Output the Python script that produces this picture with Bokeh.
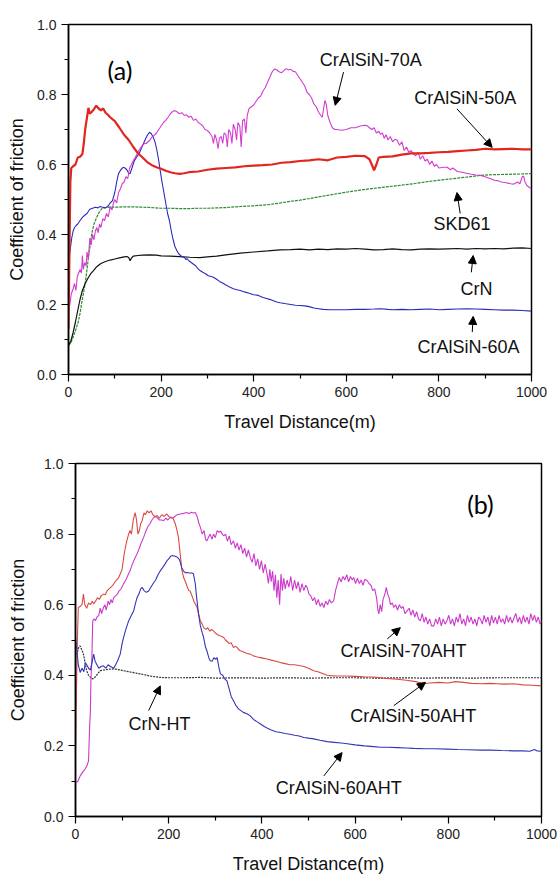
from bokeh.plotting import figure
from bokeh.models import Range1d, FixedTicker, Arrow, NormalHead, Label, NumeralTickFormatter
from bokeh.embed import file_html
from bokeh.resources import INLINE

# ---------------- DATA (distance m, coefficient of friction) ----------------
x_ticks = [0, 200, 400, 600, 800, 1000]
x_minor = [100, 300, 500, 700, 900]
y_ticks = [0.0, 0.2, 0.4, 0.6, 0.8, 1.0]
y_minor = [0.1, 0.3, 0.5, 0.7, 0.9]

# panel (a)
a_50A = [(0,0.13),(2,0.35),(4,0.55),(6,0.59),(10,0.595),(15,0.60),(20,0.62),(25,0.622),(30,0.63),(33,0.66),(36,0.70),(40,0.735),(43,0.762),(46,0.745),(50,0.75),(55,0.758),(60,0.768),(65,0.76),(70,0.755),(75,0.76),(80,0.748),(85,0.742),(90,0.735),(100,0.724),(110,0.705),(120,0.685),(130,0.67),(140,0.65),(150,0.632),(160,0.62),(170,0.607),(180,0.598),(190,0.592),(200,0.588),(210,0.582),(220,0.578),(230,0.575),(240,0.573),(250,0.575),(260,0.578),(280,0.58),(300,0.585),(320,0.588),(340,0.59),(360,0.592),(380,0.595),(400,0.597),(420,0.598),(440,0.60),(460,0.605),(480,0.607),(500,0.61),(520,0.612),(540,0.615),(560,0.612),(580,0.62),(600,0.622),(620,0.625),(640,0.624),(650,0.615),(655,0.60),(660,0.583),(665,0.60),(670,0.62),(680,0.622),(700,0.623),(720,0.628),(740,0.632),(760,0.632),(780,0.633),(800,0.635),(820,0.636),(840,0.638),(860,0.64),(880,0.642),(900,0.645),(920,0.643),(940,0.644),(960,0.645),(980,0.643),(1000,0.643)]

a_70A = [(0,0.19),(3,0.2),(6,0.23),(10,0.245),(13,0.26),(16,0.24),(19,0.28),(22,0.29),(25,0.3),(28,0.29),(30,0.34),(32,0.3),(35,0.32),(38,0.31),(40,0.35),(43,0.33),(46,0.39),(49,0.37),(52,0.4),(55,0.385),(58,0.41),(61,0.42),(64,0.405),(67,0.43),(70,0.42),(74,0.445),(78,0.44),(82,0.46),(86,0.45),(90,0.48),(94,0.47),(97,0.49),(100,0.5),(104,0.49),(108,0.52),(112,0.53),(116,0.545),(120,0.55),(124,0.565),(128,0.56),(132,0.59),(136,0.6),(140,0.611),(144,0.62),(148,0.63),(152,0.64),(156,0.648),(160,0.655),(164,0.66),(168,0.66),(172,0.665),(176,0.67),(180,0.678),(185,0.683),(190,0.69),(195,0.70),(200,0.71),(205,0.72),(210,0.726),(215,0.735),(220,0.745),(225,0.752),(230,0.754),(235,0.75),(240,0.745),(245,0.748),(250,0.74),(255,0.742),(260,0.735),(265,0.738),(270,0.726),(275,0.73),(280,0.72),(285,0.716),(290,0.71),(295,0.70),(300,0.697),(305,0.69),(310,0.68),(313,0.66),(316,0.686),(320,0.67),(323,0.645),(326,0.675),(330,0.68),(333,0.66),(336,0.69),(340,0.686),(343,0.65),(346,0.70),(350,0.69),(353,0.66),(356,0.715),(360,0.70),(363,0.67),(366,0.72),(370,0.71),(373,0.65),(376,0.725),(380,0.73),(383,0.69),(386,0.74),(390,0.76),(395,0.765),(400,0.77),(405,0.78),(410,0.79),(415,0.795),(420,0.81),(425,0.82),(430,0.835),(435,0.85),(440,0.865),(445,0.873),(450,0.87),(455,0.865),(460,0.862),(465,0.868),(470,0.874),(475,0.87),(480,0.872),(485,0.866),(490,0.865),(495,0.855),(500,0.845),(505,0.835),(510,0.825),(515,0.807),(520,0.80),(525,0.79),(530,0.773),(535,0.765),(540,0.75),(545,0.74),(548,0.735),(551,0.76),(554,0.783),(557,0.77),(560,0.74),(565,0.72),(570,0.705),(575,0.70),(580,0.70),(590,0.698),(600,0.70),(610,0.705),(620,0.705),(630,0.71),(640,0.712),(645,0.711),(650,0.705),(655,0.70),(660,0.705),(665,0.69),(670,0.695),(674,0.686),(678,0.69),(682,0.675),(686,0.685),(690,0.67),(695,0.68),(700,0.665),(705,0.672),(710,0.669),(715,0.655),(720,0.665),(725,0.64),(730,0.65),(735,0.635),(740,0.64),(745,0.63),(750,0.625),(755,0.635),(760,0.615),(765,0.625),(770,0.61),(775,0.615),(780,0.60),(785,0.61),(790,0.595),(795,0.6),(800,0.59),(810,0.592),(818,0.592),(825,0.585),(830,0.59),(840,0.58),(850,0.578),(860,0.575),(870,0.572),(880,0.57),(890,0.569),(900,0.565),(910,0.56),(920,0.555),(926,0.554),(935,0.55),(945,0.548),(955,0.545),(962,0.544),(970,0.55),(975,0.545),(980,0.565),(983,0.567),(986,0.55),(990,0.54),(995,0.535),(1000,0.53)]

a_60A = [(0,0.30),(2,0.34),(4,0.36),(7,0.39),(10,0.41),(13,0.42),(16,0.425),(20,0.43),(25,0.44),(30,0.449),(35,0.455),(40,0.46),(46,0.472),(52,0.475),(58,0.478),(64,0.476),(68,0.48),(74,0.478),(80,0.476),(86,0.482),(90,0.49),(95,0.497),(100,0.52),(104,0.55),(108,0.574),(113,0.585),(118,0.592),(122,0.59),(126,0.585),(130,0.575),(133,0.574),(137,0.59),(142,0.61),(147,0.621),(152,0.63),(157,0.645),(162,0.66),(167,0.675),(171,0.685),(175,0.692),(179,0.688),(183,0.678),(187,0.664),(191,0.64),(195,0.61),(198,0.583),(202,0.55),(206,0.52),(210,0.49),(214,0.46),(218,0.44),(222,0.41),(226,0.385),(230,0.365),(234,0.354),(238,0.345),(242,0.34),(246,0.336),(250,0.335),(254,0.328),(256,0.331),(260,0.325),(265,0.32),(270,0.315),(275,0.31),(280,0.302),(284,0.297),(290,0.292),(296,0.288),(302,0.282),(308,0.28),(313,0.278),(320,0.272),(326,0.266),(332,0.262),(338,0.257),(342,0.254),(348,0.25),(356,0.245),(364,0.242),(371,0.24),(380,0.236),(390,0.232),(400,0.228),(410,0.226),(420,0.22),(428,0.217),(436,0.214),(444,0.21),(450,0.207),(457,0.205),(470,0.202),(480,0.20),(490,0.198),(500,0.197),(510,0.196),(520,0.194),(530,0.19),(540,0.188),(550,0.186),(565,0.185),(580,0.185),(600,0.185),(620,0.186),(640,0.186),(660,0.187),(674,0.188),(690,0.186),(700,0.185),(720,0.186),(740,0.185),(760,0.186),(780,0.187),(800,0.185),(820,0.186),(840,0.187),(860,0.188),(880,0.187),(900,0.186),(920,0.185),(940,0.184),(960,0.184),(980,0.183),(1000,0.181)]

a_SKD61 = [(0,0.083),(5,0.09),(10,0.107),(15,0.125),(21,0.15),(25,0.175),(28,0.2),(32,0.23),(36,0.26),(40,0.3),(43,0.335),(47,0.37),(50,0.40),(55,0.43),(61,0.449),(66,0.463),(72,0.474),(80,0.477),(90,0.478),(100,0.478),(120,0.479),(140,0.479),(160,0.478),(180,0.477),(200,0.475),(220,0.475),(240,0.474),(260,0.474),(280,0.475),(300,0.475),(320,0.476),(340,0.477),(371,0.48),(400,0.482),(430,0.485),(457,0.49),(480,0.495),(500,0.498),(530,0.505),(560,0.512),(601,0.521),(630,0.527),(660,0.532),(700,0.538),(745,0.545),(780,0.552),(820,0.558),(860,0.564),(890,0.569),(920,0.571),(950,0.572),(980,0.573),(1000,0.574)]

a_CrN = [(0,0.083),(5,0.095),(10,0.12),(15,0.15),(21,0.19),(25,0.215),(30,0.24),(36,0.26),(42,0.275),(48,0.288),(54,0.297),(61,0.308),(70,0.317),(80,0.323),(90,0.327),(100,0.33),(110,0.333),(120,0.336),(126,0.337),(130,0.334),(133,0.325),(136,0.333),(140,0.338),(150,0.34),(160,0.341),(176,0.342),(190,0.341),(200,0.339),(220,0.338),(240,0.337),(262,0.335),(284,0.334),(300,0.336),(320,0.338),(340,0.342),(371,0.347),(400,0.35),(430,0.353),(457,0.356),(480,0.357),(500,0.358),(520,0.356),(540,0.358),(560,0.357),(580,0.359),(600,0.358),(620,0.36),(640,0.358),(660,0.356),(680,0.357),(700,0.359),(720,0.357),(740,0.356),(760,0.358),(780,0.359),(800,0.358),(820,0.359),(840,0.36),(860,0.358),(880,0.36),(900,0.359),(920,0.36),(940,0.359),(960,0.361),(980,0.362),(1000,0.36)]

# panel (b)
b_50AHT = [(0,0.19),(2,0.35),(4,0.5),(6,0.592),(10,0.595),(14,0.60),(17,0.63),(20,0.60),(24,0.59),(28,0.605),(32,0.60),(36,0.61),(39,0.602),(43,0.61),(47,0.62),(51,0.615),(55,0.625),(60,0.63),(64,0.628),(68,0.64),(72,0.645),(76,0.65),(80,0.655),(84,0.663),(88,0.67),(92,0.675),(96,0.687),(100,0.70),(104,0.74),(107,0.762),(110,0.78),(114,0.8),(117,0.81),(120,0.80),(124,0.84),(128,0.861),(131,0.84),(134,0.80),(137,0.81),(140,0.83),(143,0.838),(147,0.86),(150,0.855),(154,0.866),(158,0.86),(162,0.866),(166,0.855),(170,0.85),(175,0.852),(180,0.845),(185,0.855),(190,0.85),(196,0.857),(200,0.85),(205,0.848),(210,0.843),(214,0.83),(218,0.81),(221,0.79),(225,0.74),(228,0.70),(232,0.677),(236,0.665),(240,0.65),(243,0.64),(246,0.639),(250,0.625),(254,0.61),(258,0.6),(261,0.592),(265,0.57),(268,0.554),(272,0.545),(275,0.535),(280,0.53),(284,0.535),(288,0.525),(292,0.53),(296,0.526),(300,0.52),(305,0.515),(310,0.512),(314,0.51),(318,0.507),(322,0.5),(326,0.495),(330,0.49),(334,0.492),(339,0.479),(344,0.482),(347,0.479),(352,0.47),(357,0.468),(362,0.465),(368,0.462),(375,0.46),(382,0.455),(390,0.452),(397,0.45),(404,0.448),(411,0.446),(420,0.443),(430,0.44),(440,0.436),(450,0.433),(460,0.43),(470,0.43),(482,0.427),(490,0.425),(500,0.42),(511,0.413),(520,0.41),(530,0.405),(540,0.4),(547,0.399),(560,0.398),(580,0.398),(600,0.397),(618,0.396),(640,0.395),(660,0.392),(690,0.389),(710,0.386),(730,0.382),(747,0.376),(760,0.378),(780,0.38),(800,0.378),(815,0.382),(833,0.38),(850,0.377),(870,0.376),(890,0.377),(905,0.376),(920,0.375),(940,0.376),(960,0.373),(980,0.372),(1000,0.37)]

b_CrNHT = [(0,0.45),(3,0.46),(7,0.48),(10,0.483),(14,0.47),(17,0.46),(20,0.44),(24,0.413),(28,0.4),(32,0.394),(36,0.39),(40,0.392),(45,0.40),(53,0.413),(60,0.415),(70,0.417),(82,0.418),(92,0.416),(103,0.413),(115,0.41),(127,0.407),(139,0.404),(150,0.401),(160,0.398),(170,0.396),(182,0.394),(200,0.393),(230,0.393),(268,0.394),(300,0.392),(350,0.393),(400,0.392),(450,0.393),(500,0.392),(550,0.393),(600,0.393),(650,0.392),(700,0.393),(750,0.392),(800,0.393),(850,0.392),(900,0.393),(950,0.393),(1000,0.393)]

b_60AHT = [(0,0.507),(3,0.47),(6,0.43),(10,0.408),(14,0.42),(18,0.41),(21,0.435),(24,0.43),(28,0.42),(32,0.415),(36,0.44),(39,0.46),(42,0.44),(46,0.43),(50,0.42),(55,0.425),(60,0.427),(65,0.42),(70,0.43),(75,0.425),(82,0.42),(86,0.43),(90,0.44),(96,0.46),(100,0.49),(103,0.507),(108,0.53),(114,0.554),(120,0.57),(125,0.583),(128,0.6),(132,0.62),(136,0.63),(140,0.645),(143,0.649),(147,0.64),(152,0.635),(157,0.639),(162,0.65),(168,0.663),(172,0.67),(177,0.685),(182,0.696),(187,0.705),(192,0.715),(196,0.724),(200,0.73),(204,0.737),(207,0.739),(212,0.738),(218,0.735),(222,0.73),(225,0.72),(228,0.705),(232,0.695),(236,0.69),(239,0.691),(245,0.69),(250,0.69),(253,0.688),(257,0.66),(260,0.62),(264,0.574),(268,0.54),(272,0.52),(275,0.507),(279,0.48),(282,0.469),(286,0.45),(289,0.441),(293,0.44),(297,0.45),(301,0.445),(304,0.45),(308,0.42),(311,0.404),(316,0.4),(320,0.39),(325,0.384),(330,0.36),(334,0.34),(339,0.328),(344,0.315),(350,0.305),(355,0.3),(360,0.295),(368,0.291),(375,0.285),(382,0.275),(390,0.268),(397,0.262),(405,0.255),(412,0.25),(420,0.245),(430,0.24),(440,0.238),(450,0.235),(460,0.233),(470,0.23),(480,0.228),(490,0.224),(500,0.222),(511,0.22),(525,0.216),(540,0.212),(555,0.21),(570,0.208),(583,0.206),(600,0.203),(620,0.2),(640,0.198),(654,0.196),(670,0.196),(690,0.195),(710,0.194),(726,0.193),(750,0.192),(770,0.192),(798,0.191),(820,0.19),(845,0.189),(869,0.188),(890,0.188),(915,0.187),(941,0.186),(960,0.186),(975,0.185),(985,0.19),(990,0.186),(1000,0.185)]

b_70AHT = [(0,0.096),(5,0.1),(10,0.115),(15,0.125),(21,0.135),(25,0.145),(28,0.158),(30,0.243),(32,0.3),(33,0.384),(35,0.44),(36,0.5),(37,0.554),(40,0.56),(43,0.555),(46,0.565),(50,0.57),(53,0.59),(56,0.575),(60,0.592),(63,0.6),(66,0.585),(70,0.61),(73,0.6),(76,0.615),(79,0.605),(82,0.62),(86,0.625),(90,0.63),(94,0.64),(98,0.645),(103,0.659),(108,0.67),(113,0.685),(117,0.696),(122,0.715),(127,0.73),(132,0.744),(137,0.76),(141,0.775),(146,0.79),(150,0.805),(155,0.82),(160,0.83),(164,0.84),(168,0.847),(172,0.85),(176,0.845),(180,0.84),(185,0.84),(189,0.838),(194,0.845),(198,0.84),(203,0.847),(208,0.845),(213,0.85),(218,0.855),(225,0.857),(230,0.858),(235,0.86),(239,0.861),(244,0.858),(248,0.862),(253,0.86),(257,0.861),(261,0.85),(265,0.83),(268,0.819),(272,0.80),(276,0.81),(279,0.786),(282,0.781),(285,0.79),(289,0.8),(293,0.785),(296,0.80),(300,0.79),(304,0.81),(308,0.805),(311,0.809),(315,0.8),(318,0.795),(322,0.8),(326,0.78),(330,0.795),(334,0.77),(339,0.781),(343,0.76),(347,0.775),(351,0.755),(355,0.77),(359,0.745),(363,0.76),(367,0.735),(371,0.755),(375,0.734),(379,0.72),(383,0.745),(387,0.71),(391,0.73),(395,0.70),(399,0.725),(403,0.69),(407,0.715),(411,0.687),(414,0.66),(417,0.70),(420,0.665),(423,0.695),(426,0.64),(429,0.685),(432,0.62),(435,0.67),(438,0.6),(441,0.687),(444,0.64),(447,0.675),(450,0.645),(454,0.67),(458,0.65),(462,0.68),(466,0.64),(470,0.67),(474,0.645),(478,0.665),(482,0.635),(486,0.66),(490,0.64),(494,0.655),(497,0.649),(501,0.63),(505,0.625),(509,0.611),(513,0.62),(517,0.6),(521,0.615),(525,0.595),(529,0.605),(533,0.592),(537,0.61),(541,0.6),(545,0.615),(549,0.605),(554,0.611),(558,0.64),(562,0.66),(566,0.677),(570,0.665),(574,0.68),(578,0.67),(582,0.685),(586,0.665),(590,0.68),(594,0.67),(597,0.677),(601,0.66),(605,0.675),(609,0.66),(613,0.67),(617,0.655),(621,0.672),(626,0.668),(630,0.66),(634,0.655),(638,0.64),(642,0.645),(646,0.62),(649,0.585),(651,0.574),(654,0.6),(657,0.58),(660,0.615),(664,0.63),(667,0.649),(670,0.63),(673,0.62),(676,0.6),(680,0.605),(683,0.592),(687,0.6),(691,0.585),(695,0.6),(699,0.59),(703,0.595),(707,0.575),(712,0.583),(716,0.59),(720,0.57),(724,0.585),(728,0.565),(732,0.58),(736,0.56),(740,0.554),(744,0.575),(748,0.55),(752,0.565),(756,0.545),(760,0.56),(764,0.54),(769,0.54),(773,0.56),(777,0.545),(781,0.565),(785,0.54),(789,0.56),(793,0.545),(797,0.554),(801,0.57),(805,0.545),(809,0.56),(813,0.54),(817,0.565),(821,0.55),(825,0.575),(829,0.545),(833,0.56),(837,0.54),(841,0.57),(845,0.55),(849,0.565),(853,0.545),(857,0.56),(861,0.54),(865,0.565),(869,0.559),(873,0.545),(877,0.57),(881,0.55),(885,0.565),(889,0.54),(893,0.57),(897,0.548),(901,0.565),(905,0.545),(909,0.57),(913,0.55),(917,0.56),(921,0.545),(925,0.57),(929,0.55),(933,0.565),(937,0.548),(941,0.563),(945,0.575),(949,0.55),(953,0.565),(957,0.545),(961,0.57),(965,0.55),(969,0.565),(973,0.545),(977,0.575),(981,0.555),(985,0.57),(989,0.55),(993,0.565),(997,0.545),(1000,0.554)]

# annotations: (text, text_x, text_y, arrow_x0, arrow_y0, arrow_x1, arrow_y1) in data units
notes_a = [
    ("CrAlSiN-70A", 653, 0.899, 594, 0.864, 576, 0.769),
    ("CrAlSiN-50A", 857, 0.789, 839, 0.759, 915, 0.649),
    ("SKD61", 850, 0.431, 846, 0.46, 839, 0.52),
    ("CrN", 881, 0.245, 870, 0.292, 874, 0.34),
    ("CrAlSiN-60A", 864, 0.078, 872, 0.121, 874, 0.166),
]
notes_b = [
    ("CrAlSiN-70AHT", 704, 0.469, 669, 0.503, 697, 0.535),
    ("CrAlSiN-50AHT", 725, 0.285, 683, 0.314, 751, 0.38),
    ("CrAlSiN-60AHT", 565, 0.082, 533, 0.115, 572, 0.181),
    ("CrN-HT", 180, 0.263, 157, 0.30, 182, 0.37),
]

FONT = "Liberation Sans"


def make_fig(height, left, right, top, bottom, ylab_standoff):
    p = figure(width=560, height=height, output_backend="svg", toolbar_location=None,
               x_range=Range1d(0, 1000), y_range=Range1d(0, 1.0),
               min_border_left=left, min_border_right=right,
               min_border_top=top, min_border_bottom=bottom,
               x_axis_label="Travel Distance(m)", y_axis_label="Coefficient of friction")
    p.xgrid.visible = False
    p.ygrid.visible = False
    p.outline_line_color = "black"
    p.outline_line_width = 1.5
    p.outline_line_alpha = 1.0
    p.background_fill_color = "white"
    p.border_fill_color = "white"
    for ax in (p.xaxis[0], p.yaxis[0]):
        ax.axis_line_width = 1.5
        ax.axis_line_color = "black"
        ax.major_tick_out = 7
        ax.major_tick_in = 0
        ax.minor_tick_out = 4
        ax.minor_tick_in = 0
        ax.major_tick_line_width = 1.2
        ax.minor_tick_line_width = 1.2
        ax.major_label_text_font = FONT
        ax.major_label_text_font_size = "14px"
        ax.major_label_text_color = "#222222"
        ax.axis_label_text_font = FONT
        ax.axis_label_text_font_size = "18px"
        ax.axis_label_text_font_style = "normal"
        ax.axis_label_text_color = "#111111"
        ax.major_label_standoff = 5
    p.xaxis[0].ticker = FixedTicker(ticks=x_ticks, minor_ticks=x_minor)
    p.yaxis[0].ticker = FixedTicker(ticks=y_ticks, minor_ticks=y_minor)
    p.yaxis[0].formatter = NumeralTickFormatter(format="0.0")
    p.xaxis[0].axis_label_standoff = 12
    p.yaxis[0].axis_label_standoff = ylab_standoff
    return p


def draw(p, pts, color, width, dash="solid", alpha=1.0):
    xs = [a for a, b in pts]
    ys = [b for a, b in pts]
    p.line(xs, ys, line_color=color, line_width=width, line_dash=dash, line_alpha=alpha)


def annotate(p, notes):
    for txt, tx, ty, x0, y0, x1, y1 in notes:
        p.add_layout(Label(x=tx, y=ty, text=txt, text_align="center", text_baseline="middle",
                           text_font=FONT, text_font_size="18px", text_color="#111111"))
        p.add_layout(Arrow(end=NormalHead(size=8, fill_color="black", line_color="black"),
                           x_start=x0, y_start=y0, x_end=x1, y_end=y1,
                           line_color="black", line_width=1))


# ---- panel (a)
p1 = make_fig(440, 68, 29, 24, 66, 7)
draw(p1, a_SKD61, "#2e8b2e", 1.2, "3 1")
draw(p1, a_CrN, "#111111", 1.2)
draw(p1, a_60A, "#2b2bbb", 1.1)
draw(p1, a_70A, "#d23cd2", 1.1)
draw(p1, a_50A, "#e0261e", 2.2)
annotate(p1, notes_a)
p1.add_layout(Label(x=111, y=0.869, text="(a)", text_align="center", text_baseline="middle",
                    text_font="Lato", text_font_size="25px", text_color="black"))

# ---- panel (b)
p2 = make_fig(439, 75, 19, 23, 63, 13)
draw(p2, b_CrNHT, "#333333", 1.2, "2 1")
draw(p2, b_70AHT, "#cc3acc", 1.1)
draw(p2, b_50AHT, "#d84a42", 1.1)
draw(p2, b_60AHT, "#3535b5", 1.1)
annotate(p2, notes_b)
p2.add_layout(Label(x=869, y=0.886, text="(b)", text_align="center", text_baseline="middle",
                    text_font="Lato", text_font_size="25px", text_color="black"))

open("out.html", "w").write(file_html([p1, p2], INLINE))
